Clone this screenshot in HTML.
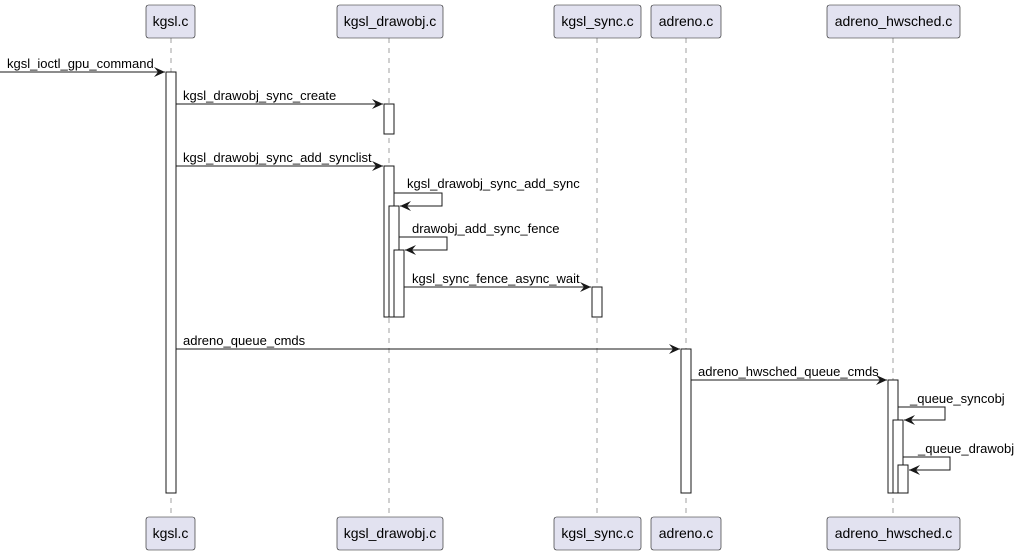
<!DOCTYPE html>
<html><head><meta charset="utf-8"><style>
html,body{margin:0;padding:0;background:#fff;}
svg{display:block;}
text{font-family:"Liberation Sans",sans-serif;font-size:13px;fill:#000;}
text.p{font-size:14px;}
</style></head><body>
<svg width="1015" height="556" viewBox="0 0 1015 556" xmlns="http://www.w3.org/2000/svg">
<defs>
<marker id="a" markerWidth="12" markerHeight="10" refX="11" refY="5" orient="auto" markerUnits="userSpaceOnUse">
<path d="M0,0 L11,5 L0,10 L4,5 Z" fill="#181818"/>
</marker>
</defs>
<g stroke="#a0a0a0" stroke-dasharray="5,5" stroke-width="1">
<line x1="171" y1="38" x2="171" y2="517"/>
<line x1="389" y1="38" x2="389" y2="517"/>
<line x1="597" y1="38" x2="597" y2="517"/>
<line x1="686" y1="38" x2="686" y2="517"/>
<line x1="893" y1="38" x2="893" y2="517"/>
</g>
<g fill="#e2e2f0" stroke="#181818" stroke-width="0.6">
<rect x="146" y="5" width="49" height="33" rx="2.5"/>
<rect x="337" y="5" width="106" height="33" rx="2.5"/>
<rect x="554" y="5" width="87" height="33" rx="2.5"/>
<rect x="651" y="5" width="70" height="33" rx="2.5"/>
<rect x="827" y="5" width="133" height="33" rx="2.5"/>
<rect x="146" y="517" width="49" height="33" rx="2.5"/>
<rect x="337" y="517" width="106" height="33" rx="2.5"/>
<rect x="554" y="517" width="87" height="33" rx="2.5"/>
<rect x="651" y="517" width="70" height="33" rx="2.5"/>
<rect x="827" y="517" width="133" height="33" rx="2.5"/>
</g>
<g text-anchor="middle">
<text class="p" x="170.5" y="26">kgsl.c</text>
<text class="p" x="390" y="26">kgsl_drawobj.c</text>
<text class="p" x="597.5" y="26">kgsl_sync.c</text>
<text class="p" x="686" y="26">adreno.c</text>
<text class="p" x="893.5" y="26">adreno_hwsched.c</text>
<text class="p" x="170.5" y="538">kgsl.c</text>
<text class="p" x="390" y="538">kgsl_drawobj.c</text>
<text class="p" x="597.5" y="538">kgsl_sync.c</text>
<text class="p" x="686" y="538">adreno.c</text>
<text class="p" x="893.5" y="538">adreno_hwsched.c</text>
</g>
<g fill="#fff" stroke="#181818" stroke-width="1">
<rect x="166" y="72" width="10" height="421"/>
<rect x="384" y="104" width="10" height="30"/>
<rect x="384" y="166" width="10" height="151"/>
<rect x="389" y="206" width="10" height="111"/>
<rect x="394" y="250" width="10" height="67"/>
<rect x="592" y="287" width="10" height="30"/>
<rect x="681" y="349" width="10" height="144"/>
<rect x="888" y="380" width="10" height="113"/>
<rect x="893" y="420" width="10" height="73"/>
<rect x="898" y="465" width="10" height="28"/>
</g>
<g stroke="#181818" stroke-width="1" fill="none" marker-end="url(#a)">
<line x1="0" y1="72" x2="165" y2="72"/>
<line x1="176" y1="104" x2="383" y2="104"/>
<line x1="176" y1="166" x2="383" y2="166"/>
<polyline points="394,193 442,193 442,206 400,206"/>
<polyline points="399,237 447,237 447,250 405,250"/>
<line x1="404" y1="287" x2="591" y2="287"/>
<line x1="176" y1="349" x2="680" y2="349"/>
<line x1="691" y1="380" x2="887" y2="380"/>
<polyline points="898,407 945,407 945,420 904,420"/>
<polyline points="903,457 950,457 950,470 909,470"/>
</g>
<text x="7" y="68">kgsl_ioctl_gpu_command</text>
<text x="183" y="100">kgsl_drawobj_sync_create</text>
<text x="183" y="162">kgsl_drawobj_sync_add_synclist</text>
<text x="407" y="188">kgsl_drawobj_sync_add_sync</text>
<text x="412" y="233">drawobj_add_sync_fence</text>
<text x="412" y="283">kgsl_sync_fence_async_wait</text>
<text x="183" y="345">adreno_queue_cmds</text>
<text x="698" y="376">adreno_hwsched_queue_cmds</text>
<text x="910" y="403">_queue_syncobj</text>
<text x="918" y="453">_queue_drawobj</text>
</svg>
</body></html>
